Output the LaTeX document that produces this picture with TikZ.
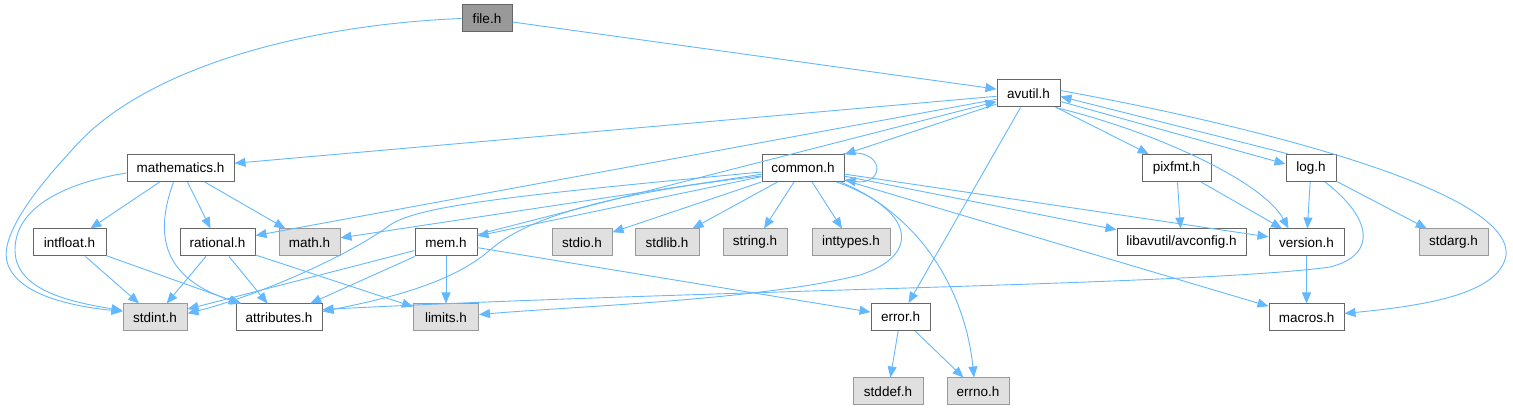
\documentclass[tikz,border=0pt]{standalone}
\usepackage{fontspec}
\setmainfont{Liberation Sans}
\usetikzlibrary{arrows.meta,calc}
\definecolor{edgec}{HTML}{63B8FF}
\definecolor{boxborder}{HTML}{666666}
\definecolor{sysborder}{HTML}{999999}
\definecolor{sysfill}{HTML}{E0E0E0}
\definecolor{mainfill}{HTML}{999999}
\begin{document}
\begin{tikzpicture}[x=1pt,y=-1pt,
  box/.style={draw=boxborder, fill=white, line width=1pt, minimum height=27pt, inner sep=0pt, font=\fontsize{13.5}{15}\selectfont},
  sysbox/.style={box, draw=sysborder, fill=sysfill},
  mainbox/.style={box, draw=boxborder, fill=mainfill},
  edge/.style={draw=edgec, line width=0.9pt, -{Triangle[length=11pt,width=9pt]}}]
\useasboundingbox (0,0) rectangle (1513,411);

% nodes
\node[mainbox, minimum width=50pt]  (file)       at (487,18.5)    {file.h};
\node[box, minimum width=63pt]      (avutil)     at (1028.5,93.5) {avutil.h};
\node[box, minimum width=107pt]     (mathematics) at (180.5,168)  {mathematics.h};
\node[box, minimum width=82pt]      (common)     at (803,168)     {common.h};
\node[box, minimum width=69pt]      (pixfmt)     at (1176.5,168)  {pixfmt.h};
\node[box, minimum width=50pt]      (log)        at (1311,168)    {log.h};
\node[box, minimum width=73pt]      (intfloat)   at (69.5,242.5)  {intfloat.h};
\node[box, minimum width=75pt]      (rational)   at (217.5,242.5) {rational.h};
\node[sysbox, minimum width=61pt]   (math)       at (309.5,242.5) {math.h};
\node[box, minimum width=62pt]      (mem)        at (446,242.5)   {mem.h};
\node[sysbox, minimum width=60pt]   (stdio)      at (582,242.5)   {stdio.h};
\node[sysbox, minimum width=64pt]   (stdlib)     at (667,242.5)   {stdlib.h};
\node[sysbox, minimum width=64pt]   (string)     at (755,242.5)   {string.h};
\node[sysbox, minimum width=78pt]   (inttypes)   at (851,242.5)   {inttypes.h};
\node[box, minimum width=129pt]     (avconfig)   at (1181.5,242.5) {libavutil/avconfig.h};
\node[box, minimum width=75pt]      (version)    at (1306.5,242.5) {version.h};
\node[sysbox, minimum width=69pt]   (stdarg)     at (1453.5,242.5) {stdarg.h};
\node[sysbox, minimum width=64pt]   (stdint)     at (155,317.5)   {stdint.h};
\node[box, minimum width=86pt]      (attributes) at (279,317.5)   {attributes.h};
\node[sysbox, minimum width=65pt]   (limits)     at (446,317.5)   {limits.h};
\node[box, minimum width=59pt]      (error)      at (900.5,317)   {error.h};
\node[box, minimum width=75pt]      (macros)     at (1306.5,317.5) {macros.h};
\node[sysbox, minimum width=70pt]   (stddef)     at (888,391.5)   {stddef.h};
\node[sysbox, minimum width=62pt]   (errno)      at (978,391.5)   {errno.h};

% file.h
\draw[edge] (file) -- (avutil);
\draw[edge] (file.west) .. controls (300,25) and (140,70) .. (72,150)
  .. controls (30,195) and (-2,240) .. (8,265)
  .. controls (20,295) and (70,306) .. ($(stdint.west)+(0,-6)$);

% avutil.h
\draw[edge] (avutil) -- (mathematics);
\draw[edge] (avutil) -- (rational);
\draw[edge] (avutil) -- (common);
\draw[edge] (avutil) -- (error);
\draw[edge] (avutil) -- (pixfmt);
\draw[edge] ($(avutil.east)+(0,8)$) -- ($(log.west)+(0,-4)$);
\draw[edge] ($(avutil.south east)+(-5,0)$) .. controls (1150,130) and (1262,180) .. ($(version.north)+(-18,0)$);
\draw[edge] ($(avutil.east)+(0,-3)$) .. controls (1250,125) and (1512,190) .. (1506,255)
  .. controls (1500,295) and (1420,306) .. ($(macros.east)+(0,-4)$);

% mem.h
\draw[edge] (mem) -- (avutil);
\draw[edge] (mem) -- (error);
\draw[edge] (mem) -- (limits);
\draw[edge] (mem) -- (attributes);
\draw[edge] (mem) -- (stdint);

% log.h
\draw[edge] ($(log.north west)+(3,0)$) -- ($(avutil.east)+(0,3)$);
\draw[edge] (log) -- (version);
\draw[edge] (log) -- (stdarg);
\draw[edge] ($(log.south)+(14,0)$) .. controls (1372,218) and (1378,255) .. (1330,267)
  .. controls (1200,285) and (700,290) .. ($(attributes.east)+(0,-8)$);

% common.h
\draw[edge] ($(common.north east)+(-2,0)$) .. controls (886,146) and (886,186) .. ($(common.south east)+(0,-2)$);
\draw[edge] (common) -- (mem);
\draw[edge] (common) -- (math);
\draw[edge] (common) -- (stdio);
\draw[edge] (common) -- (stdlib);
\draw[edge] (common) -- (string);
\draw[edge] (common) -- (inttypes);
\draw[edge] (common) -- (avconfig);
\draw[edge] (common) -- (version);
\draw[edge] (common) -- (macros);
\draw[edge] ($(common.west)+(0,4)$) .. controls (520,195) and (420,205) .. (390,225)
  .. controls (350,255) and (260,295) .. ($(stdint.east)+(0,-4)$);
\draw[edge] ($(common.west)+(0,8)$) .. controls (620,192) and (530,215) .. (490,250)
  .. controls (450,285) and (380,300) .. ($(attributes.east)+(0,-6)$);
\draw[edge] ($(common.south east)+(-4,0)$) .. controls (920,215) and (965,290) .. ($(errno.north)+(-4,0)$);
\draw[edge] ($(common.south east)+(-8,0)$) .. controls (915,210) and (922,255) .. (860,275)
  .. controls (760,300) and (580,306) .. ($(limits.east)+(0,-3)$);

% mathematics.h
\draw[edge] (mathematics) -- (intfloat);
\draw[edge] (mathematics) -- (rational);
\draw[edge] (mathematics) -- (math);
\draw[edge] ($(mathematics.south)+(-7,0)$) .. controls (160,220) and (150,275) .. ($(attributes.north west)+(6,0)$);
\draw[edge] ($(mathematics.west)+(0,5)$) .. controls (70,182) and (15,205) .. (15,250)
  .. controls (15,290) and (70,302) .. ($(stdint.west)+(0,-7)$);

% intfloat.h, rational.h
\draw[edge] (intfloat) -- (stdint);
\draw[edge] (intfloat) -- (attributes);
\draw[edge] (rational) -- (stdint);
\draw[edge] (rational) -- (attributes);
\draw[edge] (rational) -- (limits);

% pixfmt.h, version.h, error.h
\draw[edge] (pixfmt) -- (avconfig);
\draw[edge] (pixfmt) -- (version);
\draw[edge] (version) -- (macros);
\draw[edge] (error) -- (stddef);
\draw[edge] (error) -- (errno);
\end{tikzpicture}
\end{document}
